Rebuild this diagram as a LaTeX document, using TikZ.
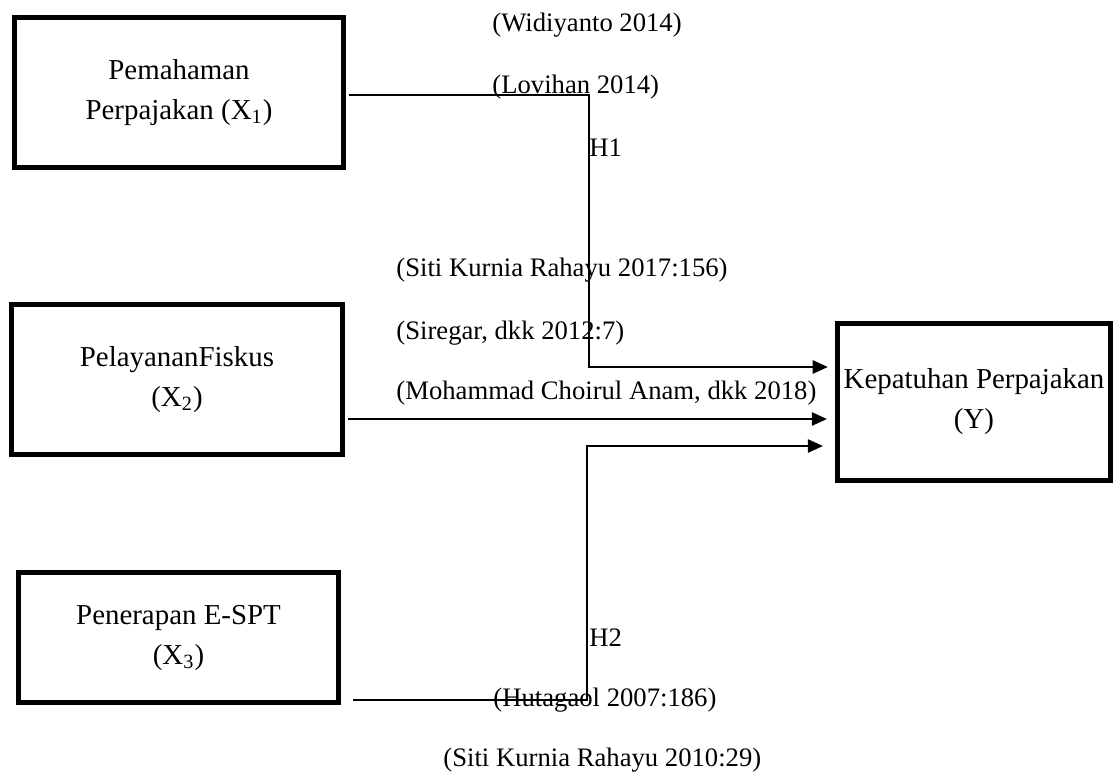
\documentclass[tikz,border=0pt]{standalone}
\usepackage{fontspec}
\setmainfont{Liberation Serif}
\usetikzlibrary{arrows.meta}
\begin{document}
\begin{tikzpicture}[x=0.45pt,y=-0.45pt,
  txt/.style={font=\fontsize{12pt}{18pt}\selectfont},
  box/.style={draw,line width=2.2pt,align=center,inner sep=0pt,font=\fontsize{13pt}{18pt}\selectfont},
  lbl/.style={txt,anchor=west,inner sep=0pt},
  arr/.style={line width=0.8pt,-{Triangle[length=6.8pt,width=6pt]}},
  ln/.style={line width=0.8pt}]
\path[use as bounding box,fill=white] (0,0) rectangle (1114,774);
% boxes
\node[box,minimum width=148pt,minimum height=67.5pt] (b1) at (179,92.5) {Pemahaman\\Perpajakan (X\textsubscript{1})};
\node[box,minimum width=149pt,minimum height=67.5pt] (b2) at (177,379.5) {PelayananFiskus\\(X\textsubscript{2})};
\node[box,minimum width=144pt,minimum height=58.5pt] (b3) at (178.5,637.5) {Penerapan E-SPT\\(X\textsubscript{3})};
\node[box,minimum width=123pt,minimum height=70.6pt] (by) at (974,402) {Kepatuhan Perpajakan\\(Y)};
% labels
\node[lbl] (w1) at (492,25) {(Widiyanto 2014)};
\node[lbl] (w2) at (492,87) {(Lovihan 2014)};
\node[lbl] (h1) at (589,148) {H1};
\node[lbl] (s1) at (396,270) {(Siti Kurnia Rahayu 2017:156)};
\node[lbl] (s2) at (396,333) {(Siregar, dkk 2012:7)};
\node[lbl] (m1) at (396,393) {(Mohammad Choirul Anam, dkk 2018)};
\node[lbl] (h2) at (589,638) {H2};
\node[lbl] (hu) at (493,700) {(Hutagaol 2007:186)};
\node[lbl] (sk) at (443,760) {(Siti Kurnia Rahayu 2010:29)};
% connectors
\coordinate (k1) at (589,367);
\coordinate (k3) at (587,446);
\draw[arr,shorten <=1.3pt,shorten >=3.2pt] (b1.east |- 0,95) -| (k1) -- (by.west |- k1);
\draw[arr,shorten <=1.3pt,shorten >=3.6pt] (b2.east |- 0,419) -- (by.west |- 0,419);
\draw[arr,shorten <=5.4pt,shorten >=5.4pt] (b3.east |- 0,700) -| (k3) -- (by.west |- k3);
\end{tikzpicture}
\end{document}
